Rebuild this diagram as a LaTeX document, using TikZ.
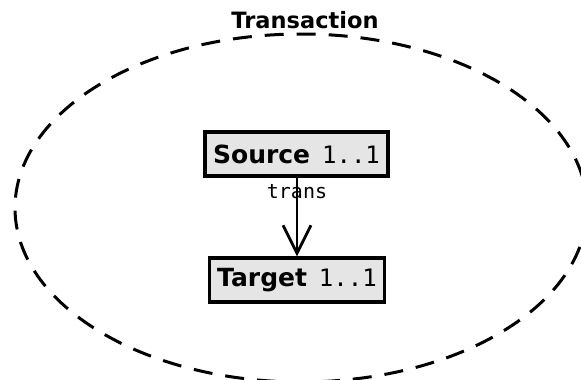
\documentclass[tikz,border=0pt]{standalone}
\usepackage{fontspec}
\setmainfont{DejaVu Sans}
\setmonofont{DejaVu Sans Mono}
\usetikzlibrary{shapes}
\usetikzlibrary{positioning}
\usetikzlibrary{arrows.meta}
\tikzset{
    group/.style = {ellipse, draw=black, dashed, line width=3pt, dash pattern=on 19pt off 13pt, minimum width=572pt, minimum height=348pt},
    classbox/.style = {rectangle, draw=black, line width=3.2pt, fill=black!10, minimum height=44pt, inner xsep=8pt, font=\fontsize{25}{28}\selectfont},
    title/.style = {font=\fontsize{22.5}{26}\selectfont\bfseries},
    reln/.style = {-{Straight Barb[length=28pt,width=28pt,line width=2.8pt]}, line width=2.8pt},
    rolelbl/.style = {font=\ttfamily\fontsize{20}{23}\selectfont, inner sep=1pt}
}
\newcommand{\mult}[1]{\hspace{4pt}\texttt{\fontsize{24}{28}\selectfont #1}}

\begin{document}
\begin{tikzpicture}[x=1pt,y=-1pt]
\useasboundingbox (0,0) rectangle (581,380);
\clip (0,0) rectangle (581,380);
\node[group] at (301,208) (txn) {};
\node[title] at (305,20) (txnname) {Transaction};
%
\node[classbox] at (296.5,154) (src) {\textbf{Source} \mult{1..1}};
\node[classbox] at (297,280) (tgt) {\textbf{Target} \mult{1..1}};
%
\draw[reln] (src.south -| tgt.north) -- node[rolelbl, pos=0.06, anchor=north] {trans} (tgt.north);
\end{tikzpicture}
\end{document}
